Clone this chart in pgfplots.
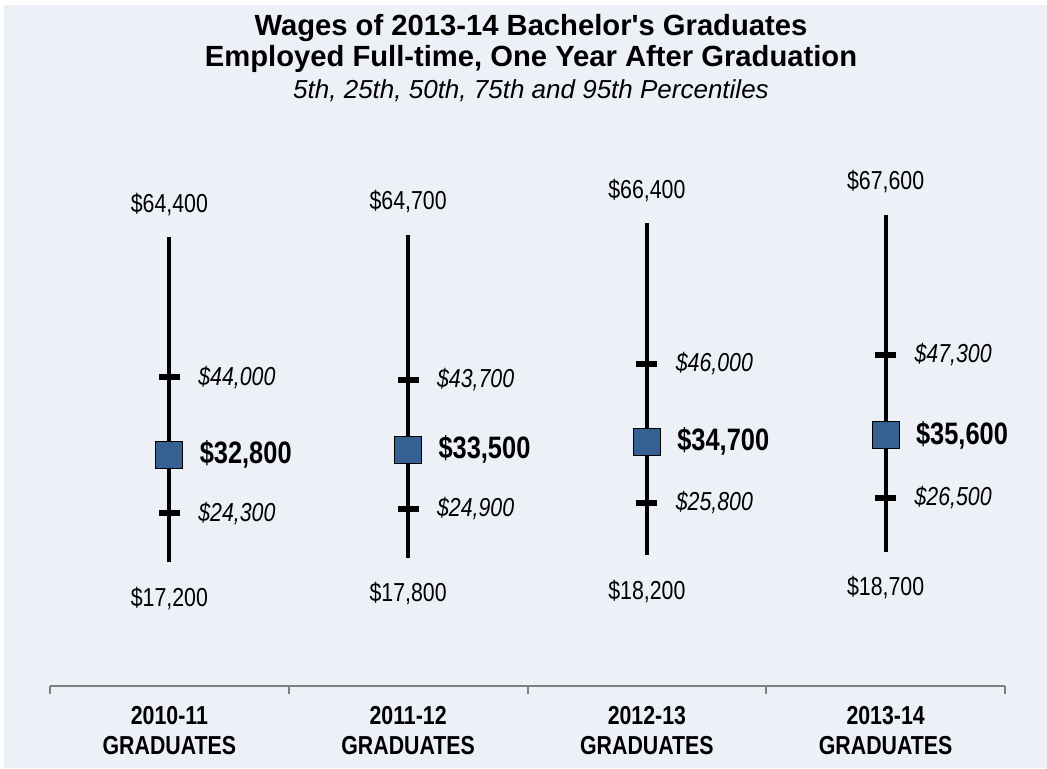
\documentclass[border=0pt]{standalone}
\usepackage{fontspec}
\setmainfont{Liberation Sans}
\newfontfamily\narrow[FakeStretch=0.82]{Liberation Sans}
\usepackage{pgfplots}
\usepackage{pgfplotstable}
\pgfplotsset{compat=1.18}
\usetikzlibrary{backgrounds}
\definecolor{bgc}{RGB}{237,241,247}
\definecolor{sq}{RGB}{55,96,146}

% percentiles of full-time wages, one year after graduation
\pgfplotstableread{
x p5 p25 p50 p75 p95
0 17200 24300 32800 44000 64400
1 17800 24900 33500 43700 64700
2 18200 25800 34700 46000 66400
3 18700 26500 35600 47300 67600
}\wages

\begin{document}
\begin{tikzpicture}
\begin{axis}[
    name=ax, at={(0,0)}, anchor=south west,
    scale only axis, width=477.5pt, height=278pt,
    xmin=-0.5, xmax=3.5, ymin=-805, ymax=79940,
    clip=false,
    axis y line=none, axis x line*=bottom,
    x axis line style={-, draw=gray, line width=1pt},
    xtick={-0.5,0.5,1.5,2.5,3.5}, xticklabels={},
    tick align=outside, major tick length=4pt,
    tick style={draw=gray, line width=1pt},
    extra x ticks={0,1,2,3},
    extra x tick labels={2010-11\\GRADUATES,2011-12\\GRADUATES,2012-13\\GRADUATES,2013-14\\GRADUATES},
    extra x tick style={major tick length=0pt,
        tick label style={align=center, anchor=north, inner sep=0pt, yshift=-10pt,
            font=\narrow\bfseries\fontsize{13}{15}\selectfont}},
    /pgf/number format/assume math mode=true,
    /pgf/number format/.cd, fixed, precision=0, 1000 sep={,},
]
% 5th to 95th
\addplot[only marks, mark=none, error bars/.cd, y dir=both, y explicit, error mark=none,
    error bar style={draw=black, line width=2pt, solid}]
    table[x=x, y=p50, y error plus expr=\thisrow{p95}-\thisrow{p50}, y error minus expr=\thisrow{p50}-\thisrow{p5}] {\wages};
% top and bottom labels
\addplot[only marks, mark=none, nodes near coords={\$\pgfmathprintnumber{\pgfplotspointmeta}},
    nodes near coords style={anchor=base, yshift=12.5pt, inner sep=0pt, font=\narrow\fontsize{13}{15}\selectfont}]
    table[x=x, y=p95] {\wages};
\addplot[only marks, mark=none, nodes near coords={\$\pgfmathprintnumber{\pgfplotspointmeta}},
    nodes near coords style={anchor=base, yshift=-22pt, inner sep=0pt, font=\narrow\fontsize{13}{15}\selectfont}]
    table[x=x, y=p5] {\wages};
% quartiles
\addplot[only marks, mark=-, mark size=5.25pt, mark options={draw=black, line width=3pt},
    nodes near coords={\$\pgfmathprintnumber{\pgfplotspointmeta}},
    nodes near coords style={anchor=west, xshift=13pt, inner sep=0pt, font=\narrow\itshape\fontsize{13}{15}\selectfont}]
    table[x=x, y=p25] {\wages};
\addplot[only marks, mark=-, mark size=5.25pt, mark options={draw=black, line width=3pt},
    nodes near coords={\$\pgfmathprintnumber{\pgfplotspointmeta}},
    nodes near coords style={anchor=west, xshift=13pt, inner sep=0pt, font=\narrow\itshape\fontsize{13}{15}\selectfont}]
    table[x=x, y=p75] {\wages};
% median
\addplot[only marks, mark=square*, mark size=6.75pt, mark options={fill=sq, draw=none},
    nodes near coords={\$\pgfmathprintnumber{\pgfplotspointmeta}},
    nodes near coords style={anchor=west, xshift=15pt, inner sep=0pt, font=\narrow\bfseries\fontsize{15.5}{18}\selectfont}]
    table[x=x, y=p50] {\wages};
\end{axis}
\node[anchor=base, font=\bfseries\fontsize{14.6}{16}\selectfont] at ([shift={(240.5pt,325.5pt)}]ax.south west) {Wages of 2013-14 Bachelor\textquotesingle s Graduates};
\node[anchor=base, font=\bfseries\fontsize{14.6}{16}\selectfont] at ([shift={(240.5pt,310pt)}]ax.south west) {Employed Full-time, One Year After Graduation};
\node[anchor=base, font=\itshape\fontsize{13}{15}\selectfont] at ([shift={(240.5pt,294pt)}]ax.south west) {5th, 25th, 50th, 75th and 95th Percentiles};
\begin{scope}[on background layer]
\fill[white] ([shift={(-25pt,-41pt)}]ax.south west) rectangle ++(523.5pt,384pt);
\fill[bgc] ([shift={(-23pt,-41pt)}]ax.south west) rectangle ++(521.5pt,381.5pt);
\end{scope}
\pgfresetboundingbox
\path ([shift={(-25pt,-41pt)}]ax.south west) rectangle ++(523.5pt,384pt);
\end{tikzpicture}
\end{document}
